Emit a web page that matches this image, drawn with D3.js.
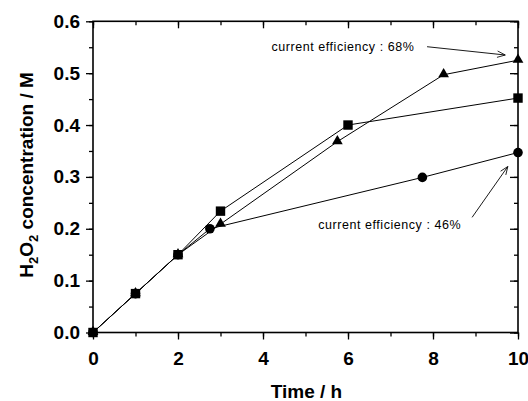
<!DOCTYPE html>
<html lang="en">
<head>
<meta charset="UTF-8">
<title>H2O2 concentration</title>
<style>
  body { margin: 0; background: #fff; }
  text { font-family: Arial, "Liberation Sans", sans-serif; }
</style>
</head>
<body>
<script src="https://d3js.org/d3.v7.min.js"></script>
<script>

    // series
    var squareTime = [0, 1, 2, 3, 6, 10],
        squareConc = [0, 0.075, 0.15, 0.234, 0.40, 0.452];
    var circleTime = [0, 1, 2, 2.75, 7.75, 10],
        circleConc = [0, 0.075, 0.15, 0.20, 0.299, 0.347];
    var triangleTime = [0, 1, 2, 3, 5.75, 8.25, 10],
        triangleConc = [0, 0.075, 0.15, 0.209, 0.368, 0.497, 0.525];

    var xTicks = [0, 2, 4, 6, 8, 10],
        yTicks = [0, 0.1, 0.2, 0.3, 0.4, 0.5, 0.6];

    var notes = [
        {text: "current efficiency : 68%", x: 4.2, y: 0.543, from: [7.86, 0.551], to: [9.7, 0.535]},
        {text: "current efficiency : 46%", x: 5.3, y: 0.2, from: [8.92, 0.222], to: [9.76, 0.32]}
    ];

    var width = 528,
        height = 401,
        padLeft = 93,
        padRight = 518,
        padTop = 21.3,
        padBottom = 332.5;

    var svg = d3.select("body")
        .append("svg")
        .attr("width", width)
        .attr("height", height);

    var x = d3.scaleLinear().domain([0, 10]).range([padLeft, padRight]);
    var y = d3.scaleLinear().domain([0, 0.6]).range([padBottom, padTop]);

    var minorX = d3.range(0, 11, 1),
        minorY = d3.range(0, 13).map(function (i) { return i * 0.05; });

    function styleAxis(g) {
        g.select(".domain").remove();
        g.selectAll(".tick line").attr("stroke", "#000").attr("stroke-width", 1.3);
        g.selectAll("text")
            .attr("font-size", "19px")
            .attr("font-weight", "bold")
            .attr("fill", "#000")
            .attr("font-family", "Arial, 'Liberation Sans', sans-serif");
    }

    // bottom: outward ticks with labels
    svg.append("g")
        .attr("transform", "translate(0," + padBottom + ")")
        .call(d3.axisBottom(x).tickValues(minorX).tickSize(4).tickFormat(""))
        .call(styleAxis);
    svg.append("g")
        .attr("transform", "translate(0," + padBottom + ")")
        .call(d3.axisBottom(x).tickValues(xTicks).tickSize(7).tickPadding(12.5).tickFormat(d3.format("d")))
        .call(styleAxis);

    // top: inward ticks
    svg.append("g")
        .attr("transform", "translate(0," + padTop + ")")
        .call(d3.axisTop(x).tickValues(minorX).tickSize(-4).tickFormat(""))
        .call(styleAxis);
    svg.append("g")
        .attr("transform", "translate(0," + padTop + ")")
        .call(d3.axisTop(x).tickValues(xTicks).tickSize(-7).tickFormat(""))
        .call(styleAxis);

    // left: outward ticks with labels
    svg.append("g")
        .attr("transform", "translate(" + padLeft + ",0)")
        .call(d3.axisLeft(y).tickValues(minorY).tickSize(4).tickFormat(""))
        .call(styleAxis);
    svg.append("g")
        .attr("transform", "translate(" + padLeft + ",0)")
        .call(d3.axisLeft(y).tickValues(yTicks).tickSize(7).tickPadding(6).tickFormat(d3.format(".1f")))
        .call(styleAxis);

    // right: inward ticks
    svg.append("g")
        .attr("transform", "translate(" + padRight + ",0)")
        .call(d3.axisRight(y).tickValues(minorY).tickSize(-4).tickFormat(""))
        .call(styleAxis);
    svg.append("g")
        .attr("transform", "translate(" + padRight + ",0)")
        .call(d3.axisRight(y).tickValues(yTicks).tickSize(-8).tickFormat(""))
        .call(styleAxis);

    // frame
    svg.append("rect")
        .attr("x", padLeft)
        .attr("y", padTop)
        .attr("width", padRight - padLeft)
        .attr("height", padBottom - padTop)
        .attr("fill", "none")
        .attr("stroke", "#000")
        .attr("stroke-width", 1.6);

    var line = d3.line()
        .x(function (d) { return x(d[0]); })
        .y(function (d) { return y(d[1]); });

    function pairs(ts, vs) {
        return ts.map(function (t, i) { return [t, vs[i]]; });
    }

    var triangles = pairs(triangleTime, triangleConc),
        circles = pairs(circleTime, circleConc),
        squares = pairs(squareTime, squareConc);

    [triangles, circles, squares].forEach(function (s) {
        svg.append("path")
            .datum(s)
            .attr("d", line)
            .attr("fill", "none")
            .attr("stroke", "#000")
            .attr("stroke-width", 1);
    });

    svg.append("g").selectAll("path")
        .data(triangles)
        .enter()
        .append("path")
        .attr("d", d3.symbol().type(d3.symbolTriangle).size(50))
        .attr("transform", function (d) {
            return "translate(" + x(d[0]) + "," + (y(d[1]) - 0.5) + ")";
        })
        .attr("fill", "#000");

    svg.append("g").selectAll("circle")
        .data(circles)
        .enter()
        .append("circle")
        .attr("cx", function (d) { return x(d[0]); })
        .attr("cy", function (d) { return y(d[1]); })
        .attr("r", 4.8)
        .attr("fill", "#000");

    svg.append("g").selectAll("rect")
        .data(squares)
        .enter()
        .append("rect")
        .attr("x", function (d) { return x(d[0]) - 4.7; })
        .attr("y", function (d) { return y(d[1]) - 4.7; })
        .attr("width", 9.4)
        .attr("height", 9.4)
        .attr("fill", "#000");

    // annotations
    svg.append("defs").append("marker")
        .attr("id", "head")
        .attr("viewBox", "0 -5 10 10")
        .attr("refX", 10)
        .attr("refY", 0)
        .attr("markerWidth", 12)
        .attr("markerHeight", 8)
        .attr("markerUnits", "userSpaceOnUse")
        .attr("orient", "auto")
        .append("path")
        .attr("d", "M0,-4L10,0L0,4")
        .attr("fill", "none")
        .attr("stroke", "#000")
        .attr("stroke-width", 1);

    notes.forEach(function (n) {
        svg.append("text")
            .attr("x", x(n.x))
            .attr("y", y(n.y))
            .attr("font-size", "12.5px")
            .attr("letter-spacing", "0.55px")
            .attr("fill", "#000")
            .text(n.text);
        svg.append("line")
            .attr("x1", x(n.from[0]))
            .attr("y1", y(n.from[1]))
            .attr("x2", x(n.to[0]))
            .attr("y2", y(n.to[1]))
            .attr("stroke", "#000")
            .attr("stroke-width", 0.9)
            .attr("marker-end", "url(#head)");
    });

    // axis titles
    svg.append("text")
        .attr("x", (padLeft + padRight) / 2 + 1)
        .attr("y", 398)
        .attr("text-anchor", "middle")
        .attr("font-size", "19px")
        .attr("font-weight", "bold")
        .text("Time / h");

    var ylab = svg.append("text")
        .attr("transform", "translate(33," + ((padTop + padBottom) / 2 - 2) + ") rotate(-90)")
        .attr("text-anchor", "middle")
        .attr("font-size", "19px")
        .attr("font-weight", "bold");
    ylab.append("tspan").text("H");
    ylab.append("tspan").attr("font-size", "13px").attr("dy", 5).text("2");
    ylab.append("tspan").attr("dy", -5).text("O");
    ylab.append("tspan").attr("font-size", "13px").attr("dy", 5).text("2");
    ylab.append("tspan").attr("dy", -5).text(" concentration / M");

</script>
</body>
</html>
